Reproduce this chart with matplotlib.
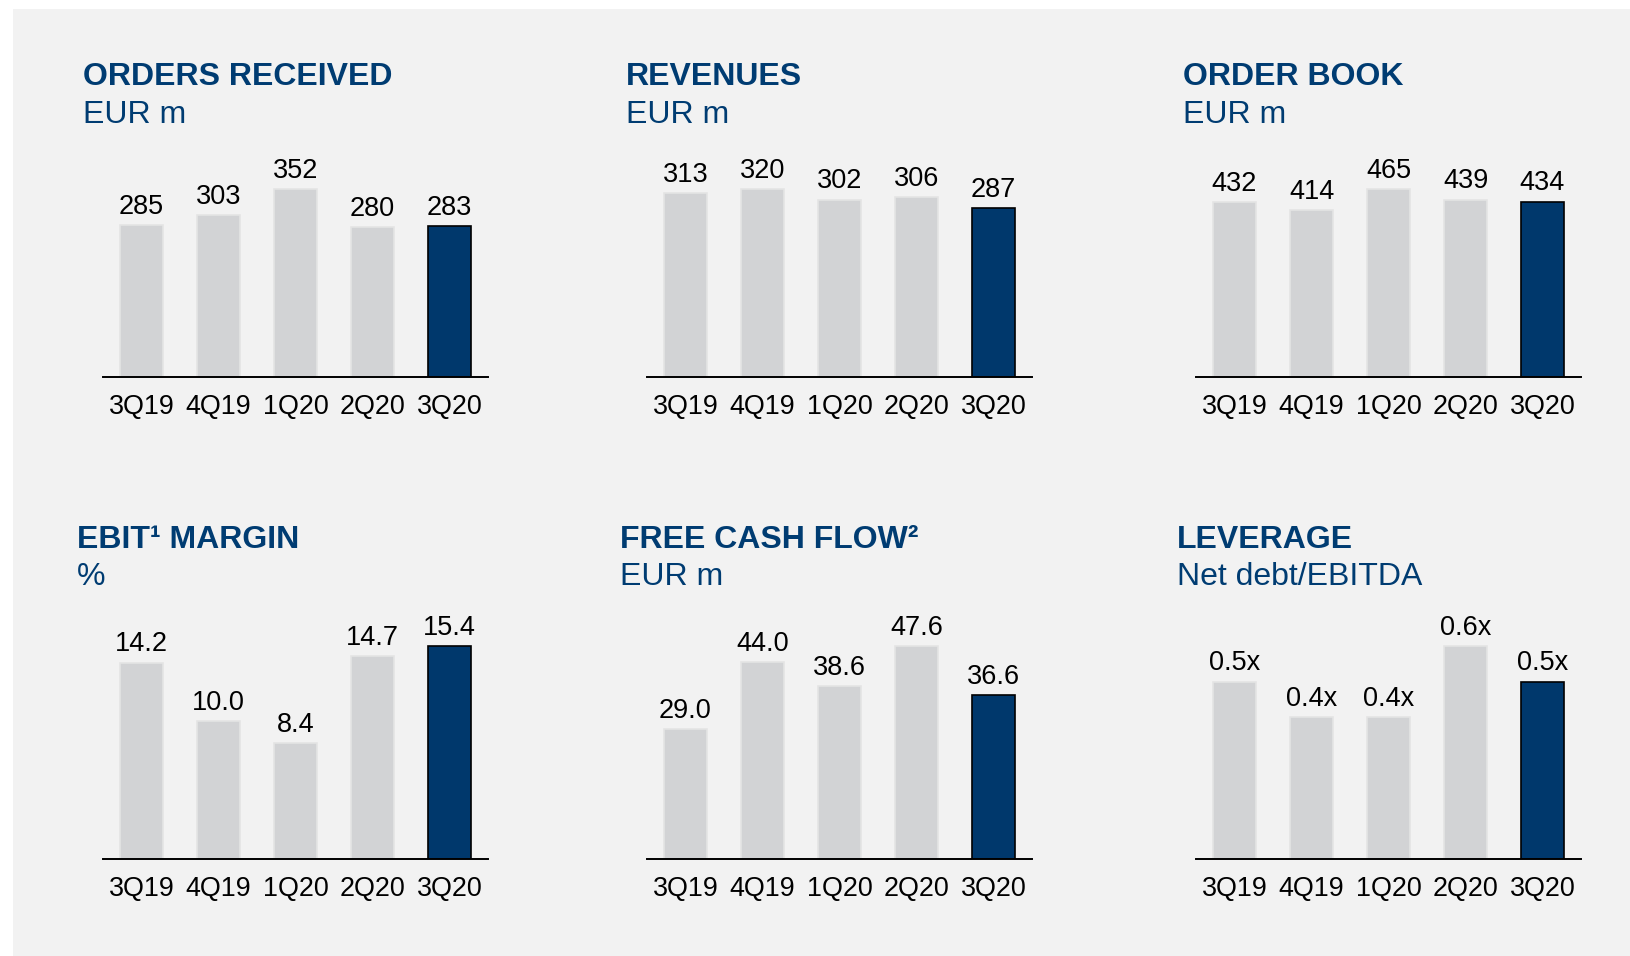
import matplotlib
matplotlib.use("Agg")
import matplotlib.pyplot as plt
from matplotlib.patches import Rectangle

plt.rcParams["font.family"] = ["Liberation Sans", "DejaVu Sans"]

W, H = 1630, 956
DPI = 100

quarters = ["3Q19", "4Q19", "1Q20", "2Q20", "3Q20"]

orders = [285, 303, 352, 280, 283]
revenues = [313, 320, 302, 306, 287]
order_book = [432, 414, 465, 439, 434]
ebit_margin = [14.2, 10.0, 8.4, 14.7, 15.4]
free_cash_flow = [29.0, 44.0, 38.6, 47.6, 36.6]
leverage = [0.5, 0.4, 0.4, 0.6, 0.5]

titles = ["ORDERS RECEIVED", "REVENUES", "ORDER BOOK",
          "EBIT\u00b9 MARGIN", "FREE CASH FLOW\u00b2", "LEVERAGE"]
subtitles = ["EUR m", "EUR m", "EUR m", "%", "EUR m", "Net debt/EBITDA"]
formats = ["{:.0f}", "{:.0f}", "{:.0f}", "{:.1f}", "{:.1f}", "{:.1f}x"]
series = [orders, revenues, order_book, ebit_margin, free_cash_flow, leverage]

BLUE = "#003c72"
NAVY = "#00386c"
GREY = "#d2d3d5"
BG = "#f2f2f2"

# panel geometry in pixels (from top-left)
ax_left = [103, 647, 1196]
title_x = [[83, 626, 1183], [77, 620, 1177]]
title_base = [85, 548]
sub_base = [123, 585]
baseline = [377, 859]
max_bar_px = [188, 213]
ax_h = 240
ax_w = 385

fig = plt.figure(figsize=(W / DPI, H / DPI), dpi=DPI)
fig.patch.set_facecolor("white")
fig.add_artist(Rectangle((13 / W, 0), 1 - 13 / W, 1 - 9 / H,
                         transform=fig.transFigure, facecolor=BG,
                         edgecolor="none", zorder=0))

for i, vals in enumerate(series):
    row, col = divmod(i, 3)
    x0 = ax_left[col]
    y0 = baseline[row]
    ax = fig.add_axes([x0 / W, 1 - y0 / H, ax_w / W, ax_h / H])
    ax.set_facecolor("none")
    colors = [GREY] * 4 + [NAVY]
    edges = ["#e4e4e4"] * 4 + ["black"]
    ax.bar(range(5), vals, width=0.56, color=colors, edgecolor=edges,
           linewidth=1.2, zorder=2)
    ax.set_xlim(-0.5, 4.5)
    ax.set_ylim(0, max(vals) * ax_h / max_bar_px[row])
    for s in ["top", "left", "right"]:
        ax.spines[s].set_visible(False)
    ax.spines["bottom"].set_linewidth(1.4)
    ax.spines["bottom"].set_zorder(3)
    ax.set_yticks([])
    ax.set_xticks(range(5))
    ax.set_xticklabels(quarters, fontsize=19.4)
    ax.tick_params(axis="x", length=0, pad=12)
    for k, v in enumerate(vals):
        ax.annotate(formats[i].format(v), (k, v), xytext=(0, 8),
                    textcoords="offset points", ha="center", va="baseline",
                    fontsize=19.5, color="black")
    fig.text(title_x[row][col] / W, 1 - title_base[row] / H, titles[i],
             fontsize=23, fontweight="bold", color=BLUE, va="baseline")
    fig.text(title_x[row][col] / W, 1 - sub_base[row] / H, subtitles[i],
             fontsize=23, color=BLUE, va="baseline")

fig.savefig("out.png", dpi=DPI, facecolor=fig.get_facecolor())
